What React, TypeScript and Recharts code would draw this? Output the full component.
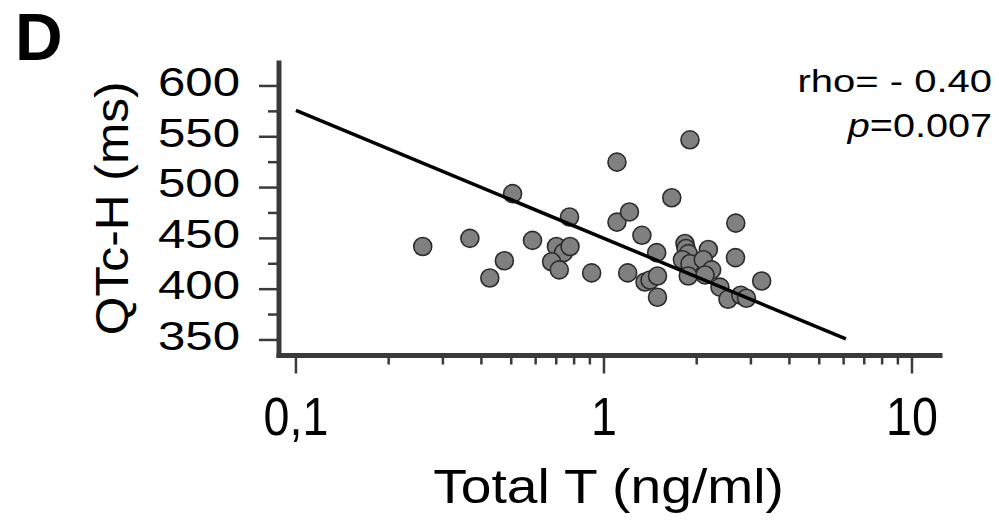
import React from "react";
import { ScatterChart, Scatter, XAxis, YAxis } from "recharts";

// Total T (ng/ml)
const totalT = [
  0.258, 0.367, 0.426, 0.475, 0.505, 0.586, 0.701, 0.739, 0.776, 0.676, 0.716,
  0.773, 0.912, 1.102, 1.102, 1.21, 1.194, 1.902, 1.66, 1.328, 1.483, 1.359,
  1.411, 1.492, 1.492, 2.679, 1.832, 1.846, 1.878, 1.798, 1.902, 1.878, 2.182,
  2.101, 2.237, 2.128, 2.673, 3.251, 2.38, 2.527, 2.781, 2.902,
];

// QTc-H (ms)
const qtcH = [
  442, 450, 411, 428, 494, 448, 442, 436, 442, 427, 419, 471, 416, 525, 466,
  476, 416, 547, 490, 453, 436, 407, 409, 413, 392, 465, 445, 440, 435, 429,
  425, 413, 439, 429, 419, 414, 431, 408, 402, 390, 394, 391,
];

// regression line end points
const fitT = [0.1, 6.1];
const fitQtc = [576, 351];

const xMajor = [0.1, 1, 10];
const xMinor = [0.2, 0.3, 0.4, 0.5, 0.6, 0.7, 0.8, 0.9, 2, 3, 4, 5, 6, 7, 8, 9];
const xLabels = ["0,1", "1", "10"];
const yMajor = [350, 400, 450, 500, 550, 600];
const yMinor = [375, 425, 475, 525, 575];

const points = totalT.map((t, i) => ({ t, qtc: qtcH[i] }));
const fit = fitT.map((t, i) => ({ t, qtc: fitQtc[i] }));

const FONT = "'Liberation Sans', Arial, Helvetica, sans-serif";
const AXIS = "#3a3a3a";

const XTick = (props: any) => {
  const { x, y, payload } = props;
  const idx = xMajor.indexOf(payload.value);
  const major = idx >= 0;
  return (
    <g>
      <line x1={x} x2={x} y1={y} y2={y + (major ? 18 : 9)} stroke={AXIS} strokeWidth={2.5} />
      {major && (
        <text
          transform={`translate(${x} ${y + 79.5}) scale(0.88 1)`}
          textAnchor="middle"
          fontFamily={FONT}
          fontSize={53}
          fill="#000"
        >
          {xLabels[idx]}
        </text>
      )}
    </g>
  );
};

const YTick = (props: any) => {
  const { x, y, payload } = props;
  const major = yMajor.includes(payload.value);
  return (
    <g>
      <line x1={x} x2={x - (major ? 20 : 11)} y1={y} y2={y} stroke={AXIS} strokeWidth={2.5} />
      {major && (
        <text
          transform={`translate(${x - 39} ${y + 9.8}) scale(1.23 1)`}
          textAnchor="end"
          fontFamily={FONT}
          fontSize={40}
          fill="#000"
        >
          {payload.value}
        </text>
      )}
    </g>
  );
};

const Dot = (props: any) => (
  <circle cx={props.cx} cy={props.cy} r={9} fill="#808080" stroke="#2b2b2b" strokeWidth={1.6} />
);

const XTitle = (props: any) => {
  const { x, y, width } = props.viewBox;
  return (
    <text
      transform={`translate(${x + width / 2 - 1} ${y + 147}) scale(1.15 1)`}
      textAnchor="middle"
      fontFamily={FONT}
      fontSize={48}
      fill="#000"
    >
      Total T (ng/ml)
    </text>
  );
};

const YTitle = (props: any) => {
  const { y, height } = props.viewBox;
  return (
    <text
      transform={`translate(128 ${y + height / 2 - 1}) rotate(-90) scale(1.08 1)`}
      textAnchor="middle"
      fontFamily={FONT}
      fontSize={46}
      fill="#000"
    >
      QTc-H (ms)
    </text>
  );
};

export default function App() {
  return (
    <div style={{ position: "absolute", left: 0, top: 0, width: 999, height: 523, background: "#fff" }}>
      <ScatterChart
        width={999}
        height={523}
        margin={{ top: 63, right: 59, bottom: 7.5, left: 79 }}
      >
        <XAxis
          type="number"
          dataKey="t"
          scale="log"
          domain={[0.0881, 12.33]}
          allowDataOverflow
          ticks={[...xMajor, ...xMinor]}
          interval={0}
          height={160}
          tickSize={0}
          tickMargin={0}
          tickLine={false}
          tick={<XTick />}
          axisLine={{ stroke: AXIS, strokeWidth: 5, strokeLinecap: "square" }}
          label={<XTitle />}
        />
        <YAxis
          type="number"
          dataKey="qtc"
          domain={[334.7, 622.6]}
          allowDataOverflow
          ticks={[...yMajor, ...yMinor]}
          interval={0}
          width={200}
          tickSize={0}
          tickMargin={0}
          tickLine={false}
          tick={<YTick />}
          axisLine={{ stroke: AXIS, strokeWidth: 5, strokeLinecap: "square" }}
          label={<YTitle />}
        />
        <Scatter data={points} shape={<Dot />} isAnimationActive={false} />
        <Scatter
          data={fit}
          line={{ stroke: "#000", strokeWidth: 3.5 }}
          shape={() => <g />}
          isAnimationActive={false}
        />
      </ScatterChart>
      <svg
        width={999}
        height={523}
        style={{ position: "absolute", left: 0, top: 0, pointerEvents: "none" }}
      >
        <text x={15} y={60} fontFamily={FONT} fontSize={66} fontWeight="bold" fill="#000">
          D
        </text>
        <text
          transform="translate(992 92) scale(1.25 1)"
          textAnchor="end"
          fontFamily={FONT}
          fontSize={32}
          fill="#000"
        >
          rho= - 0.40
        </text>
        <text
          transform="translate(992 137) scale(1.2 1)"
          textAnchor="end"
          fontFamily={FONT}
          fontSize={33}
          fill="#000"
        >
          <tspan fontStyle="italic">p</tspan>=0.007
        </text>
      </svg>
    </div>
  );
}
